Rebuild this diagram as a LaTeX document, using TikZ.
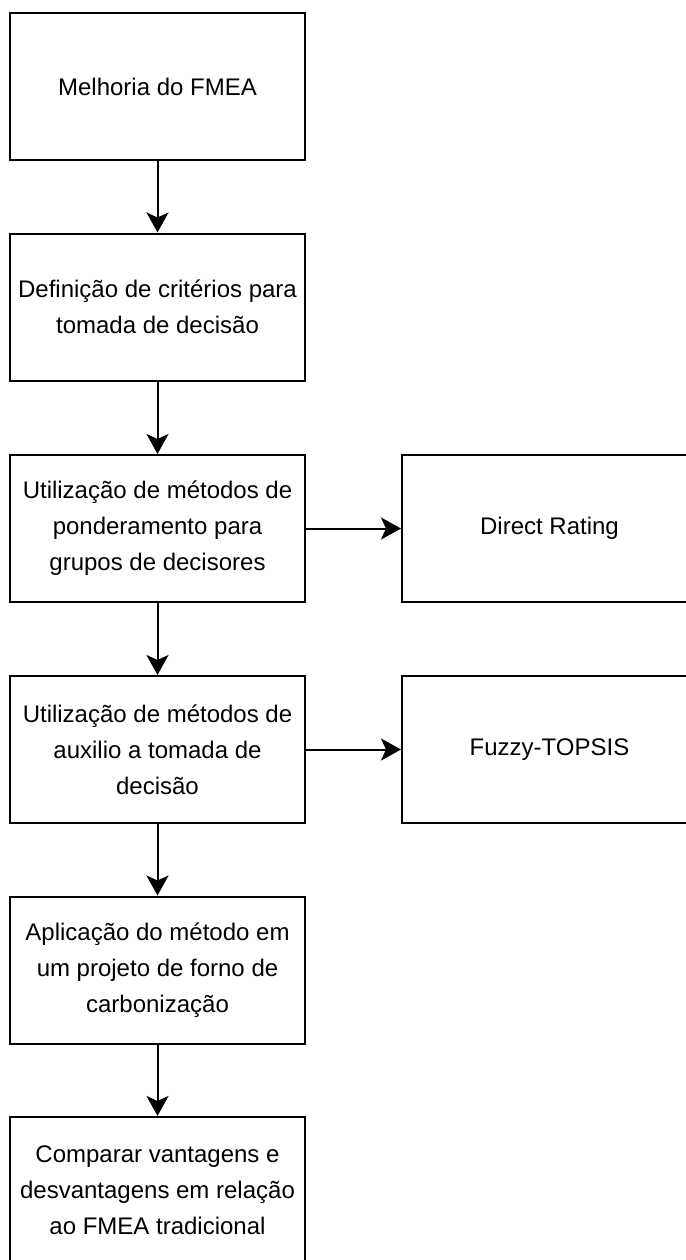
\documentclass[tikz,border=0pt]{standalone}
\usepackage{fontspec}
\setmainfont{Liberation Sans}
\usepackage{tikz}
\tikzset{
    flowbox/.style={draw, rectangle, line width=1pt, minimum width=147.5pt, minimum height=73.5pt,
        align=center, font=\fontsize{12pt}{18pt}\selectfont, inner sep=2pt},
    flowarrow/.style={line width=1pt, -{Stealth[length=10pt, width=11pt, inset=2.5pt]}}
}
\usetikzlibrary{arrows.meta}

\begin{document}
\begin{tikzpicture}[x=0.5pt, y=-0.5pt]
    \useasboundingbox (0,0) rectangle (686,1260);
    \clip (0,0) rectangle (686,1260);
    % main column
    \node[flowbox] (fmea) at (157.5,86.5) {Melhoria do FMEA};
    \node[flowbox] (criterios) at (157.5,307) {Definição de critérios para\\tomada de decisão};
    \node[flowbox] (ponderamento) at (157.5,528.5) {Utilização de métodos de\\ponderamento para\\grupos de decisores};
    \node[flowbox] (auxilio) at (157.5,749.5) {Utilização de métodos de\\auxilio a tomada de\\decisão};
    \node[flowbox] (aplicacao) at (157.5,970) {Aplicação do método em\\um projeto de forno de\\carbonização};
    \node[flowbox] (comparar) at (157.5,1190.5) {Comparar vantagens e\\desvantagens em relação\\ao FMEA tradicional};
    % side boxes
    \node[flowbox] (direct) at (549.5,528.5) {Direct Rating};
    \node[flowbox] (topsis) at (549.5,749.5) {Fuzzy-TOPSIS};
    \draw[flowarrow] (fmea)--(criterios);
    \draw[flowarrow] (criterios)--(ponderamento);
    \draw[flowarrow] (ponderamento)--(auxilio);
    \draw[flowarrow] (auxilio)--(aplicacao);
    \draw[flowarrow] (aplicacao)--(comparar);
    \draw[flowarrow] (ponderamento)--(direct);
    \draw[flowarrow] (auxilio)--(topsis);
\end{tikzpicture}
\end{document}
